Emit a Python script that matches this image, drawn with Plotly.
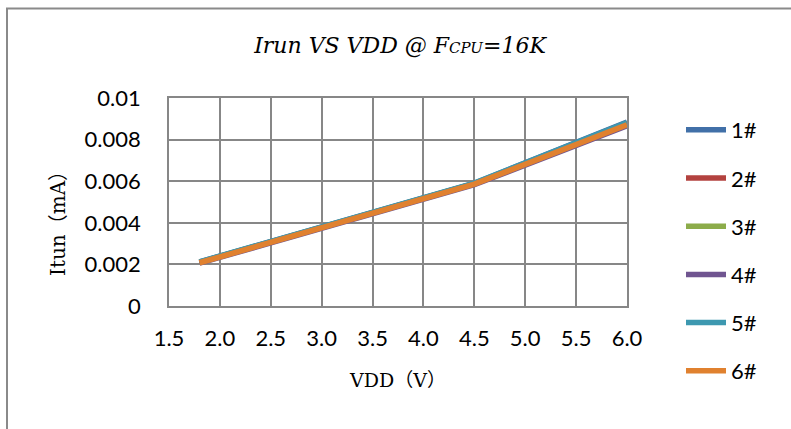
import plotly.graph_objects as go

# ---- data ----
vdd = [1.8, 3.0, 4.5, 6.0]
series_names = ["1#", "2#", "3#", "4#", "5#", "6#"]
s1 = [0.00212, 0.00377, 0.00590, 0.00884]
s2 = [0.00210, 0.00375, 0.00588, 0.00878]
s3 = [0.00210, 0.00375, 0.00588, 0.00878]
s4 = [0.00206, 0.00371, 0.00583, 0.00866]
s5 = [0.00212, 0.00378, 0.00591, 0.00882]
s6 = [0.00208, 0.00373, 0.00586, 0.00871]
colors = ["#4170A8", "#B3423F", "#8CAC4A", "#705590", "#3D98B0", "#E0812F"]
x_ticks = [1.5, 2.0, 2.5, 3.0, 3.5, 4.0, 4.5, 5.0, 5.5, 6.0]
y_ticks = [0, 0.002, 0.004, 0.006, 0.008, 0.01]
y_tick_text = ["0", "0.002", "0.004", "0.006", "0.008", "0.01"]

fig = go.Figure()
for i, (name, ys) in enumerate(zip(series_names, [s1, s2, s3, s4, s5, s6])):
    fig.add_trace(go.Scatter(
        x=vdd, y=ys, name=name, mode="lines",
        line=dict(color=colors[i], width=5.5),
        legendgroup=name,
    ))

W, H = 791, 429
L, R, T, B = 169, 164, 98, 123
pw, ph = W - L - R, H - T - B
fx = lambda px: (px - L) / pw
fy = lambda py: (H - B - py) / ph

tick_font = dict(family="Lato, Liberation Sans, sans-serif", size=22, color="#000")
serif = "DejaVu Serif, Noto Sans CJK SC, serif"

fig.update_layout(
    width=W, height=H,
    margin=dict(l=L, r=R, t=T, b=B, autoexpand=False),
    paper_bgcolor="white", plot_bgcolor="white",
    title=dict(
        text="<i>Irun VS VDD @ F<span style='font-size:15px'>CPU</span>=16K</i>",
        x=fx(400), xanchor="center", xref="paper",
        y=1 - 45 / H, yanchor="middle",
        font=dict(family=serif, size=22, color="#000"),
    ),
    xaxis=dict(
        range=[1.5, 6.0], tickvals=x_ticks, tickformat=".1f",
        showgrid=True, gridcolor="#878787", gridwidth=1.5,
        showline=True, linecolor="#878787", linewidth=1.5, mirror=True,
        zeroline=False, ticks="", ticklabelstandoff=12,
        tickfont=tick_font,
        title=dict(text="VDD（V）", font=dict(family=serif, size=19, color="#000"), standoff=24),
    ),
    yaxis=dict(
        range=[0, 0.01], tickvals=y_ticks, ticktext=y_tick_text,
        showgrid=True, gridcolor="#878787", gridwidth=1.5,
        showline=True, linecolor="#878787", linewidth=1.5, mirror=True,
        zeroline=False, ticks="", ticklabelstandoff=22,
        tickfont=tick_font,
    ),
    annotations=[dict(
        text="Itun（mA）", textangle=-90, showarrow=False,
        xref="paper", yref="paper", x=fx(58), y=fy(219),
        xanchor="center", yanchor="middle",
        font=dict(family=serif, size=20, color="#000"),
    )],
    legend=dict(
        x=fx(681), y=fy(109), xanchor="left", yanchor="top",
        font=dict(family="Lato, Liberation Sans, sans-serif", size=22, color="#000"),
        tracegroupgap=16.6, traceorder="grouped",
        bgcolor="rgba(0,0,0,0)", itemwidth=40, maxheight=420,
    ),
    showlegend=True,
    shapes=[
        dict(type="line", xref="paper", yref="paper",
             x0=fx(7), x1=fx(7), y0=fy(H + 20), y1=fy(8),
             line=dict(color="#8a8a8a", width=2), layer="below"),
        dict(type="line", xref="paper", yref="paper",
             x0=fx(6), x1=fx(W + 20), y0=fy(8.5), y1=fy(8.5),
             line=dict(color="#8a8a8a", width=2), layer="below"),
    ],
)

fig.write_html(
    "out.html",
    config={"displayModeBar": False},
    post_script="document.body.style.margin='0';document.body.style.overflow='hidden';",
)
